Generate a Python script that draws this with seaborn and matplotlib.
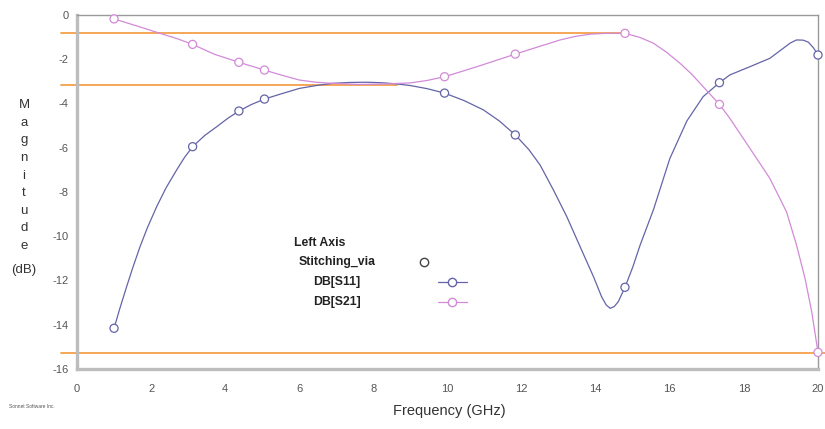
import numpy as np
import pandas as pd
import matplotlib
matplotlib.use("Agg")
import matplotlib.pyplot as plt
import seaborn as sns

# ---- data ----
s11_freq = [1.0, 1.15, 1.34, 1.5, 1.70, 1.9, 2.15, 2.4, 2.69, 2.9, 3.12, 3.45, 3.77, 4.07,
            4.37, 4.7, 5.06, 5.5, 6.0, 6.45, 6.9, 7.35, 7.8, 8.2, 8.6, 9.0, 9.45, 9.92, 10.45,
            10.97, 11.4, 11.83, 12.2, 12.5, 12.86, 13.22, 13.58, 13.94, 14.16, 14.28, 14.39,
            14.5, 14.61, 14.79, 15.0, 15.2, 15.56, 16.0, 16.46, 16.9, 17.34, 17.62, 18.16,
            18.70, 19.06, 19.25, 19.42, 19.6, 19.74, 19.88, 20.0]
s11_db = [-14.16, -13.3, -12.28, -11.45, -10.48, -9.62, -8.67, -7.83, -7.01, -6.45, -5.96,
          -5.45, -5.06, -4.68, -4.35, -4.06, -3.81, -3.58, -3.33, -3.20, -3.10, -3.06, -3.05,
          -3.07, -3.12, -3.20, -3.34, -3.54, -3.88, -4.30, -4.80, -5.43, -6.10, -6.79, -7.92,
          -9.12, -10.48, -11.83, -12.74, -13.10, -13.26, -13.18, -12.96, -12.31, -11.4,
          -10.4, -8.8, -6.5, -4.8, -3.70, -3.07, -2.72, -2.35, -1.97, -1.52, -1.28, -1.14,
          -1.15, -1.24, -1.50, -1.82]

s21_freq = [1.0, 1.6, 2.24, 2.7, 3.12, 3.7, 4.37, 5.06, 5.5, 6.0, 6.45, 6.9, 7.6, 8.3, 9.0,
            9.45, 9.92, 10.35, 10.79, 11.3, 11.83, 12.45, 13.04, 13.45, 13.85, 14.3, 14.79,
            15.2, 15.56, 15.9, 16.28, 16.6, 16.9, 17.34, 17.62, 18.16, 18.70, 19.15, 19.42,
            19.65, 19.83, 20.0]
s21_db = [-0.19, -0.50, -0.84, -1.08, -1.34, -1.78, -2.15, -2.50, -2.72, -2.95, -3.05,
          -3.10, -3.15, -3.13, -3.08, -2.97, -2.80, -2.58, -2.35, -2.07, -1.78, -1.45, -1.14,
          -0.98, -0.88, -0.84, -0.84, -1.03, -1.29, -1.68, -2.20, -2.70, -3.25, -4.05, -4.68,
          -6.03, -7.39, -8.90, -10.40, -11.91, -13.41, -15.25]

marker_freq = [1.0, 3.12, 4.37, 5.06, 9.92, 11.83, 14.79, 17.34, 20.0]
s11_marker_db = [-14.16, -5.96, -4.35, -3.81, -3.54, -5.43, -12.31, -3.07, -1.82]
s21_marker_db = [-0.19, -1.34, -2.15, -2.50, -2.80, -1.78, -0.84, -4.05, -15.25]

ref_levels = [-0.83, -3.19, -15.28]
ref_ends = [14.79, 8.65, 20.2]

x_ticks = [0, 2, 4, 6, 8, 10, 12, 14, 16, 18, 20]
y_ticks = [0, -2, -4, -6, -8, -10, -12, -14, -16]

C_S11 = "#6464a8"
C_S21 = "#d28ad8"
C_ORANGE = "#f4a04a"

sns.set_style("white")
plt.rcParams["font.family"] = ["Liberation Sans", "DejaVu Sans"]

lines = pd.concat([
    pd.DataFrame({"freq": s11_freq, "db": s11_db, "trace": "DB[S11]"}),
    pd.DataFrame({"freq": s21_freq, "db": s21_db, "trace": "DB[S21]"}),
])
marks = pd.concat([
    pd.DataFrame({"freq": marker_freq, "db": s11_marker_db, "trace": "DB[S11]"}),
    pd.DataFrame({"freq": marker_freq, "db": s21_marker_db, "trace": "DB[S21]"}),
])
palette = {"DB[S11]": C_S11, "DB[S21]": C_S21}

fig = plt.figure(figsize=(8.25, 4.29), dpi=100)
ax = fig.add_axes([77 / 825, 1 - 369 / 429, (818 - 77) / 825, (369 - 14.7) / 429])

for lvl, end in zip(ref_levels, ref_ends):
    ax.plot([-0.43, end], [lvl, lvl], color=C_ORANGE, lw=1.3, clip_on=False, zorder=1)

sns.lineplot(data=lines, x="freq", y="db", hue="trace", palette=palette, ax=ax,
             legend=False, lw=0.9, sort=False, estimator=None, zorder=2)
sns.scatterplot(data=marks, x="freq", y="db", hue="trace", palette=palette, ax=ax,
                legend=False, marker="o", s=34, linewidth=0.9, zorder=3)
for coll in ax.collections:
    coll.set_clip_on(False)
    coll.set_edgecolor([palette[t] for t in marks["trace"]])
    coll.set_facecolor("white")

ax.set_xlim(0, 20)
ax.set_ylim(-16, 0)
ax.set_xticks(x_ticks)
ax.set_yticks(y_ticks)
ax.set_xticklabels([str(t) for t in x_ticks])
ax.set_yticklabels([str(t) for t in y_ticks])
ax.tick_params(axis="both", labelsize=8, colors="#555555", length=3, width=0.6, pad=3)
ax.tick_params(axis="x", pad=8)
ax.set_xlabel("")
ax.set_ylabel("")

for side in ["left", "bottom"]:
    ax.spines[side].set_color("#bdbdbd")
    ax.spines[side].set_linewidth(2.4)
for side in ["top", "right"]:
    ax.spines[side].set_color("#9a9a9a")
    ax.spines[side].set_linewidth(1.0)


def fx(px):
    return px / 825


def fy(py):
    return 1 - py / 429


# axis titles
fig.text(fx(24), fy(175.5), "M\na\ng\nn\ni\nt\nu\nd\ne", ha="center",
         va="center", fontsize=9.5, color="#333333", linespacing=1.62)
fig.text(fx(24), fy(270), "(dB)", ha="center", va="center", fontsize=9.5, color="#333333")
fig.text(fx(449), fy(411), "Frequency (GHz)", ha="center", va="center",
         fontsize=10.5, color="#333333")
fig.text(fx(9), fy(407), "Sonnet Software Inc.", ha="left", va="center",
         fontsize=3.5, color="#555555")

# legend block
for px, py, label in [(294, 243, "Left Axis"), (299, 262, "Stitching_via"),
                      (313, 282, "DB[S11]"), (313, 302, "DB[S21]")]:
    fig.text(fx(px), fy(py), label, ha="left", va="center", fontsize=8.8,
             fontweight="bold", color="#222222")
fig.lines.append(plt.Line2D([fx(424)], [fy(262)], transform=fig.transFigure, marker="o",
                            ms=6, mfc="white", mec="#444444", mew=1.0, ls="none"))
for py, c in [(282, C_S11), (302, C_S21)]:
    fig.lines.append(plt.Line2D([fx(438), fx(467)], [fy(py), fy(py)], transform=fig.transFigure,
                                color=c, lw=0.9))
    fig.lines.append(plt.Line2D([fx(452)], [fy(py)], transform=fig.transFigure, marker="o",
                                ms=6, mfc="white", mec=c, mew=1.0, ls="none"))

fig.savefig("out.png", dpi=100)
